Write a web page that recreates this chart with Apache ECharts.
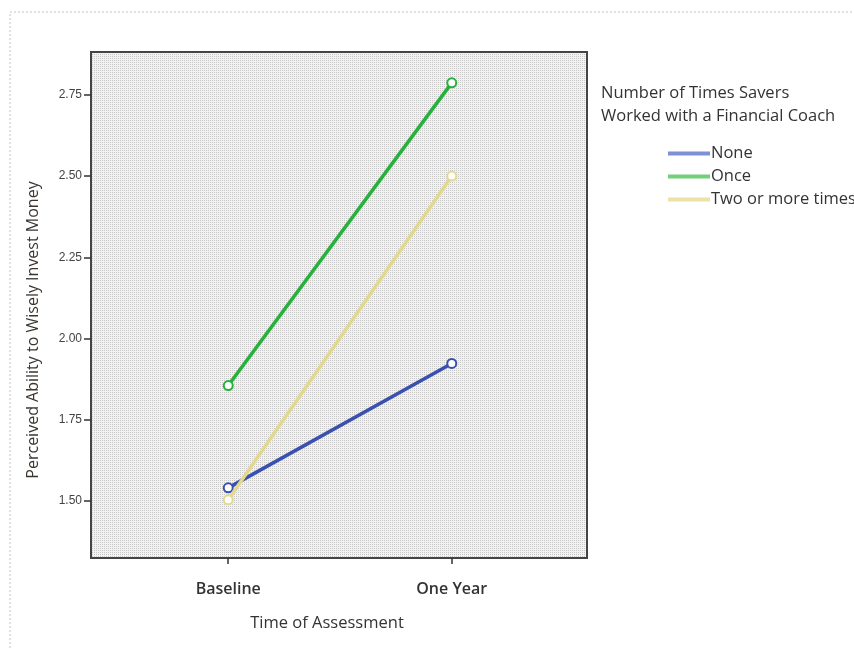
<!DOCTYPE html>
<html><head><meta charset="utf-8">
<script src="https://cdn.jsdelivr.net/npm/echarts@6/dist/echarts.min.js"></script>
<style>html,body{margin:0;padding:0;background:#fff}#c{width:854px;height:650px}</style>
</head><body><div id="c"></div>
<script>
const categories = ['Baseline', 'One Year'];
const seriesNames = ['None', 'Once', 'Two or more times'];
const noneValues = [1.54, 1.923];
const onceValues = [1.855, 2.787];
const twoPlusValues = [1.503, 2.50];
const yTicks = [1.50, 1.75, 2.00, 2.25, 2.50, 2.75];

// dotted hatch pattern for the plot background
const pc = document.createElement('canvas');
pc.width = 4; pc.height = 4;
const g = pc.getContext('2d');
g.fillStyle = '#f2f2f2'; g.fillRect(0, 0, 4, 4);
g.fillStyle = '#c8c8c8';
g.fillRect(0, 0, 1, 1); g.fillRect(2, 2, 1, 1); g.fillRect(2, 0, 1, 1); g.fillRect(0, 2, 1, 1);

const colors = ['#3a50b0', '#25b23a', '#e2d98f'];
const symColors = ['#7f90d4', '#74cf7c', '#ece2a8'];
const vals = [noneValues, onceValues, twoPlusValues];
const font = 'Open Sans';

const chart = echarts.init(document.getElementById('c'), null, {renderer: 'canvas'});
chart.setOption({
  animation: false,
  backgroundColor: '#fff',
  graphic: [{
    type: 'rect', shape: {x: 10, y: 12, width: 900, height: 700},
    style: {fill: 'none', stroke: '#c4c4c4', lineWidth: 1, lineDash: [2, 2]}
  }],
  title: {
    text: 'Number of Times Savers\nWorked with a Financial Coach',
    left: 596, top: 77,
    textStyle: {fontFamily: font, fontSize: 16.5, fontWeight: 'normal', color: '#333', lineHeight: 23}
  },
  legend: {
    orient: 'vertical', left: 663, top: 140,
    icon: 'rect', itemWidth: 40, itemHeight: 2, itemGap: 6,
    data: seriesNames,
    textStyle: {fontFamily: font, fontSize: 16.5, color: '#333', padding: [0, 0, 0, -3]}
  },
  grid: {
    left: 91, top: 52, right: 267, bottom: 92,
    show: true, borderColor: '#444', borderWidth: 2,
    backgroundColor: {image: pc, repeat: 'repeat'}
  },
  xAxis: {
    type: 'value', min: -0.614, max: 1.605,
    name: 'Time of Assessment', nameLocation: 'middle', nameGap: 57,
    nameTextStyle: {fontFamily: font, fontSize: 16.5, color: '#333', padding: [0, 24, 0, 0]},
    axisLine: {show: false, onZero: false},
    splitLine: {show: false},
    axisTick: {show: true, length: 6, lineStyle: {color: '#333', width: 1.5}, customValues: [0, 1]},
    axisLabel: {
      customValues: [0, 1], margin: 23,
      fontFamily: font, fontSize: 16, fontWeight: 600, color: '#333',
      formatter: v => categories[Math.round(v)]
    }
  },
  yAxis: {
    type: 'value', min: 1.324, max: 2.882,
    name: 'Perceived Ability to Wisely Invest Money', nameLocation: 'middle', nameGap: 50,
    nameTextStyle: {fontFamily: font, fontSize: 16, color: '#3a3530', padding: [0, 50, 0, 0]},
    axisLine: {show: false, onZero: false},
    splitLine: {show: false},
    axisTick: {show: true, length: 7, lineStyle: {color: '#333', width: 1.5}, customValues: yTicks},
    axisLabel: {
      customValues: yTicks, margin: 9,
      fontFamily: 'Liberation Sans', fontSize: 12, color: '#444',
      formatter: v => v.toFixed(2)
    }
  },
  series: seriesNames.map((n, i) => ({
    name: n, type: 'line',
    data: categories.map((c, j) => [j, vals[i][j]]),
    symbol: 'emptyCircle', symbolSize: 9, showSymbol: true,
    lineStyle: {color: colors[i], width: 3.5},
    itemStyle: {color: colors[i], borderColor: symColors[i], borderWidth: 1.5},
    z: i === 2 ? 3 : 2
  }))
});
</script></body></html>
